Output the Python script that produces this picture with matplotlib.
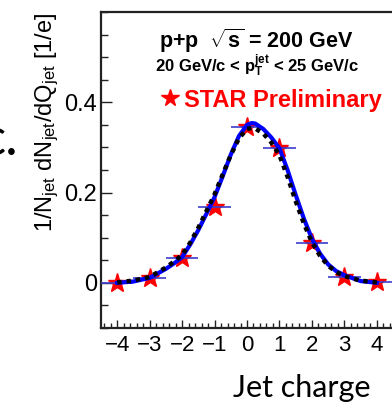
import matplotlib
matplotlib.use("Agg")
import matplotlib.pyplot as plt
from matplotlib.lines import Line2D
from matplotlib.ticker import MultipleLocator

plt.rcParams['font.family'] = ['Liberation Sans', 'DejaVu Sans']
plt.rcParams['mathtext.fontset'] = 'custom'
plt.rcParams['mathtext.rm'] = 'Liberation Sans'
plt.rcParams['mathtext.it'] = 'Liberation Sans:italic'
plt.rcParams['mathtext.bf'] = 'Liberation Sans:bold'
plt.rcParams['axes.unicode_minus'] = True

# STAR data points (jet charge bins)
q_bins = [-4, -3, -2, -1, 0, 1, 2, 3, 4]
dndq = [0.000, 0.010, 0.055, 0.169, 0.345, 0.298, 0.089, 0.014, 0.003]
bin_half = [0.5, 0.5, 0.5, 0.5, 0.5, 0.5, 0.5, 0.5, 0.5]

# curves
curve_q = [-4.0, -3.5, -3.0, -2.5, -2.25, -2.0, -1.75, -1.5, -1.25, -1.0, -0.75,
           -0.5, -0.25, 0.0, 0.15, 0.25, 0.5, 0.75, 1.0, 1.25, 1.5, 1.75, 2.0,
           2.25, 2.5, 2.75, 3.0, 3.5, 4.0]
blue_curve = [0.000, 0.003, 0.011, 0.031, 0.043, 0.057, 0.085, 0.117, 0.153, 0.190,
              0.236, 0.284, 0.325, 0.350, 0.354, 0.353, 0.341, 0.322, 0.298, 0.250,
              0.195, 0.143, 0.098, 0.065, 0.041, 0.026, 0.017, 0.004, 0.000]
black_curve = [0.001, 0.005, 0.013, 0.034, 0.047, 0.062, 0.089, 0.122, 0.159, 0.196,
               0.240, 0.283, 0.320, 0.341, 0.343, 0.342, 0.331, 0.311, 0.283, 0.235,
               0.181, 0.132, 0.090, 0.060, 0.038, 0.024, 0.015, 0.005, 0.001]

fig = plt.figure(figsize=(3.92, 4.04), dpi=100)
ax = fig.add_axes([101/392, 1-328/404, 292/392, 316/404])

ax.plot(q_bins, dndq, ls='none', marker='*', ms=14, color='red', mec='red', zorder=2)
ax.errorbar(q_bins, dndq, xerr=bin_half, fmt='none', ecolor='#3c3ccc', elinewidth=1.2,
            capsize=0, zorder=3)
ax.plot(curve_q, blue_curve, color='#0000ff', lw=3.0, zorder=4)
ax.plot(curve_q, black_curve, color='black', lw=3.2, ls=(0, (1, 1.1)),
        dash_capstyle='butt', zorder=5)

ax.set_xlim(-4.5, 4.5)
ax.set_ylim(-0.1, 0.6)
ax.xaxis.set_major_locator(MultipleLocator(1))
ax.xaxis.set_minor_locator(MultipleLocator(0.2))
ax.set_yticks([0, 0.2, 0.4])
ax.set_yticklabels(['0', '0.2', '0.4'])
ax.yaxis.set_minor_locator(MultipleLocator(0.05))
ax.tick_params(which='both', direction='in', width=1.0, color='#222222',
               top=False, right=False)
ax.tick_params(axis='y', which='major', length=8, pad=3, labelsize=17)
ax.tick_params(axis='y', which='minor', length=5)
ax.tick_params(axis='x', which='major', length=6, pad=5, labelsize=16)
ax.tick_params(axis='x', which='minor', length=3.5)
for s in ['left', 'top', 'bottom']:
    ax.spines[s].set_linewidth(1.6)
    ax.spines[s].set_color('#222222')
ax.spines['right'].set_visible(False)

ax.text(0.53, 0.885, r'p+p  $\mathbf{\sqrt{s}}$ = 200 GeV', transform=ax.transAxes,
        ha='center', va='baseline', fontsize=15.5, fontweight='bold')
ax.text(0.535, 0.81, r'20 GeV/c < p$_{\mathbf{T}}^{\mathbf{jet}}$ < 25 GeV/c',
        transform=ax.transAxes, ha='center', va='baseline', fontsize=12,
        fontweight='bold')

star_handle = Line2D([], [], ls='none', marker='*', ms=13, color='red')
leg = ax.legend([star_handle], ['STAR Preliminary'], loc='center left',
                bbox_to_anchor=((158-101)/292, (328-100)/316), frameon=False,
                handlelength=1.0, handletextpad=0.1, borderpad=0, borderaxespad=0,
                prop={'weight': 'bold', 'size': 17})
for t in leg.get_texts():
    t.set_color('red')

fig.text(47/392, 1-122/404, r'1/N$_{\rm jet}$ dN$_{\rm jet}$/dQ$_{\rm jet}$ [1/e]',
         rotation=90, ha='center', va='center', fontsize=17)
fig.text(233/392, 1-397/404, 'Jet charge', ha='left', va='baseline', fontsize=22,
         family=['Lato', 'DejaVu Sans'])
fig.text(18/392, 1-155/404, 'c.', ha='right', va='baseline', fontsize=38,
         family=['Lato', 'DejaVu Sans'])

fig.savefig('out.png', dpi=100)
